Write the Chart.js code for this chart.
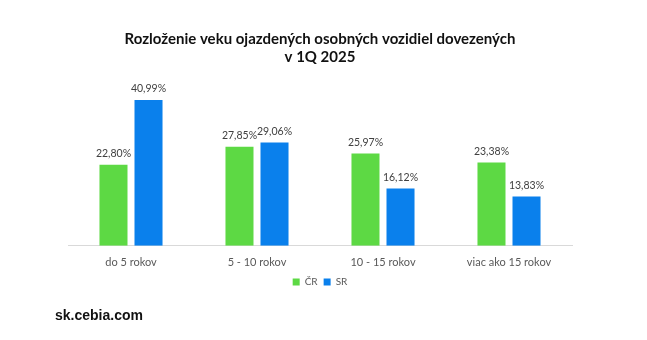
<!DOCTYPE html>
<html>
<head>
<meta charset="utf-8">
<script src="https://cdn.jsdelivr.net/npm/chart.js@4/dist/chart.umd.min.js"></script>
<style>
  html, body { margin: 0; padding: 0; background: #fff; }
  #wrap { position: relative; width: 647px; height: 340px; }
  #web { position: absolute; left: 55px; top: 307px; font: bold 14px "Liberation Sans", Arial, sans-serif; color: #111; }
</style>
</head>
<body>
<div id="wrap">
  <canvas id="graf" width="647" height="340"></canvas>
  <div id="web">sk.cebia.com</div>
</div>
<script>
const kategorie = ["do 5 rokov", "5 - 10 rokov", "10 - 15 rokov", "viac ako 15 rokov"];
const hodnotyCR = [22.80, 27.85, 25.97, 23.38];
const hodnotySR = [40.99, 29.06, 16.12, 13.83];

// popisky nad stĺpcami
const popisky = {
  id: "popisky",
  afterDatasetsDraw(chart) {
    const ctx = chart.ctx;
    ctx.save();
    ctx.font = "10.5px Lato, sans-serif";
    ctx.fillStyle = "#404040";
    ctx.textAlign = "center";
    ctx.textBaseline = "middle";
    chart.data.datasets.forEach((ds, i) => {
      chart.getDatasetMeta(i).data.forEach((bar, j) => {
        ctx.fillText(ds.data[j].toFixed(2).replace(".", ",") + "%", bar.x, bar.y - 11);
      });
    });
    ctx.restore();
  }
};

new Chart(document.getElementById("graf"), {
  type: "bar",
  data: {
    labels: kategorie,
    datasets: [
      { label: "ČR", data: hodnotyCR, backgroundColor: "#5DD944" },
      { label: "SR", data: hodnotySR, backgroundColor: "#0A80EC" }
    ]
  },
  options: {
    responsive: false,
    animation: false,
    layout: { padding: { left: 68, right: 75, top: 30, bottom: 43 } },
    datasets: { bar: { categoryPercentage: 0.556, barPercentage: 0.8 } },
    scales: {
      x: {
        grid: { display: false },
        border: { color: "#d9d9d9" },
        ticks: { color: "#595959", font: { family: "Lato, sans-serif", size: 11 }, padding: 2 }
      },
      y: { display: false, min: 0, max: 48 }
    },
    plugins: {
      title: {
        display: true,
        text: ["Rozloženie veku ojazdených osobných vozidiel dovezených", "v 1Q 2025"],
        color: "#111",
        font: { family: "Lato, sans-serif", size: 15, weight: "bold" },
        lineHeight: 1.4,
        padding: { top: 0, bottom: 9 }
      },
      legend: {
        position: "bottom",
        labels: {
          color: "#595959",
          font: { family: "Lato, sans-serif", size: 10 },
          boxWidth: 7, boxHeight: 7, padding: 6
        }
      },
      tooltip: { enabled: false }
    }
  },
  plugins: [popisky]
});
</script>
</body>
</html>
